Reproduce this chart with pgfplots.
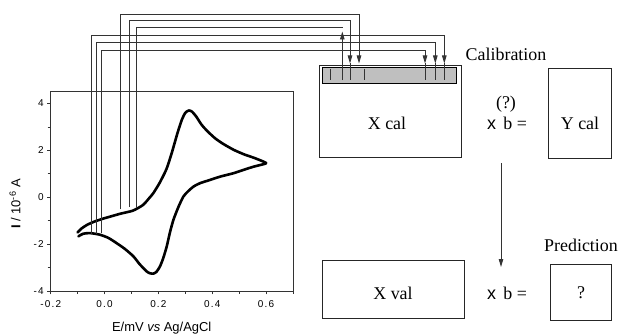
\documentclass[border=0pt]{standalone}
\usepackage{fontspec}
\setmainfont{Liberation Serif}
\newfontfamily\arial{Liberation Sans}
\newfontfamily\arialsp[LetterSpace=12]{Liberation Sans}
\usepackage{pgfplots}
\pgfplotsset{compat=1.18}
\usetikzlibrary{arrows.meta}
\newcommand\dfont{\fontsize{18}{21}\selectfont}
\newcommand\afont{\arial\fontsize{13}{15}\selectfont}
\newcommand\tfont{\arialsp\fontsize{10}{11}\selectfont}
\begin{document}
\begin{tikzpicture}
\useasboundingbox (0,0) rectangle (622bp,336bp);
% ---------- cyclic voltammogram ----------
\begin{axis}[at={(50.7bp,45bp)}, anchor=south west, scale only axis,
  width=242.3bp, height=199.3bp,
  xmin=-0.2, xmax=0.7, ymin=-4, ymax=4.5,
  xtick={-0.2,0,0.2,0.4,0.6}, xticklabels={-0.2,0.0,0.2,0.4,0.6},
  minor xtick={-0.1,0.1,0.3,0.5,0.7},
  ytick={-4,-2,0,2,4}, yticklabels={-4,-2,0,2,4},
  minor ytick={-3,-1,1,3},
  tick pos=left, tick align=outside,
  major tick length=3.5bp, minor tick length=3bp,
  tick style={black!80, line width=0.6bp},
  axis line style={black!80, line width=0.8bp},
  ticklabel style={font=\tfont},
  xticklabel style={yshift=-2.5bp},
  clip=false]
\addplot[black, line width=2.6bp, line join=round, line cap=round, smooth, tension=0.4] coordinates {
(-0.100,-1.50) (-0.085,-1.33) (-0.065,-1.18) (-0.040,-1.05) (-0.010,-0.93)
(0.020,-0.83) (0.060,-0.70) (0.106,-0.57) (0.143,-0.33) (0.165,-0.05)
(0.181,0.17) (0.205,0.62) (0.230,1.20) (0.250,1.90) (0.270,2.70)
(0.287,3.30) (0.300,3.60) (0.313,3.70) (0.325,3.65) (0.340,3.45)
(0.360,3.10) (0.380,2.84) (0.410,2.52) (0.440,2.28) (0.480,2.02)
(0.520,1.82) (0.560,1.66) (0.600,1.46)
(0.580,1.38) (0.553,1.30) (0.520,1.18) (0.478,1.02) (0.430,0.88)
(0.390,0.73) (0.355,0.60) (0.330,0.45) (0.310,0.25) (0.293,0.03)
(0.275,-0.40) (0.256,-0.96) (0.243,-1.50) (0.231,-2.10) (0.218,-2.60)
(0.206,-2.95) (0.193,-3.18) (0.181,-3.26) (0.168,-3.24) (0.156,-3.16)
(0.130,-2.85) (0.107,-2.52) (0.075,-2.20) (0.045,-1.96) (0.015,-1.74)
(-0.017,-1.60) (-0.054,-1.53) (-0.080,-1.56) (-0.097,-1.67)
};
\end{axis}
% ---------- scheme overlay (pixel coordinates) ----------
\begin{axis}[at={(0,0)}, anchor=south west, scale only axis,
  width=622bp, height=336bp, xmin=0, xmax=622, ymin=0, ymax=336,
  y dir=reverse, hide axis, clip=false,
  conn/.style={black!80, line width=0.9bp},
  arr/.style={black!80, line width=0.9bp, -{Triangle[length=8bp,width=4.5bp]}},
  box/.style={black!85, line width=1bp}]
% boxes
\addplot[box] coordinates {(319.5,65) (461,65) (461,157.5) (319.5,157.5)} -- cycle;
\addplot[draw=black, fill=black!25, line width=1.4bp] coordinates {(322.3,67.5) (456.7,67.5) (456.7,83.3) (322.3,83.3)} -- cycle;
\addplot[box] coordinates {(548.3,68.3) (611.7,68.3) (611.7,158.3) (548.3,158.3)} -- cycle;
\addplot[box] coordinates {(322.7,260.7) (464.3,260.7) (464.3,318.3) (322.7,318.3)} -- cycle;
\addplot[box] coordinates {(550,264.3) (611.7,264.3) (611.7,320) (550,320)} -- cycle;
% connecting lines
\addplot[arr] coordinates {(120.7,209.3) (120.7,14) (359,14) (359,63.5)};
\addplot[arr] coordinates {(129.3,206.7) (129.3,20) (350,20) (350,63.5)};
\addplot[conn] coordinates {(350,63) (350,80)};
\addplot[conn] coordinates {(136,207.7) (136,27.3) (343,27.3)};
\addplot[arr] coordinates {(342.3,80) (342.3,31.5)};
\addplot[arr] coordinates {(91.2,233.7) (91.2,35.7) (444.3,35.7) (444.3,63.5)};
\addplot[conn] coordinates {(444.3,63) (444.3,80)};
\addplot[arr] coordinates {(96.3,233.5) (96.3,42.7) (435.3,42.7) (435.3,63.5)};
\addplot[conn] coordinates {(435.3,63) (435.3,80)};
\addplot[arr] coordinates {(101.3,233.3) (101.3,50.7) (425,50.7) (425,63.5)};
\addplot[conn] coordinates {(425,63) (425,80)};
\addplot[conn] coordinates {(330.7,68.5) (330.7,80)};
\addplot[conn] coordinates {(364.3,68.5) (364.3,80)};
\addplot[arr] coordinates {(501,163) (501,267)};
% texts
\node[font=\dfont] at (axis cs:506,54) {Calibration};
\node[font=\dfont] at (axis cs:387,123) {X cal};
\node[font=\dfont] at (axis cs:506,104) {(?)};
\node[font=\dfont] at (axis cs:507,123) {{\arial x}\, b =};
\node[font=\dfont] at (axis cs:580,123) {Y cal};
\node[font=\dfont] at (axis cs:581,245) {Prediction};
\node[font=\dfont] at (axis cs:393,293) {X val};
\node[font=\dfont] at (axis cs:507,293) {{\arial x}\, b =};
\node[font=\dfont] at (axis cs:581,293) {?};
\node[font=\afont] at (axis cs:161.7,328) {E/mV \textit{vs} Ag/AgCl};
\node[font=\afont, rotate=90] at (axis cs:15,204) {{\bfseries I} / 10\textsuperscript{-6} A};
\end{axis}
\end{tikzpicture}
\end{document}
